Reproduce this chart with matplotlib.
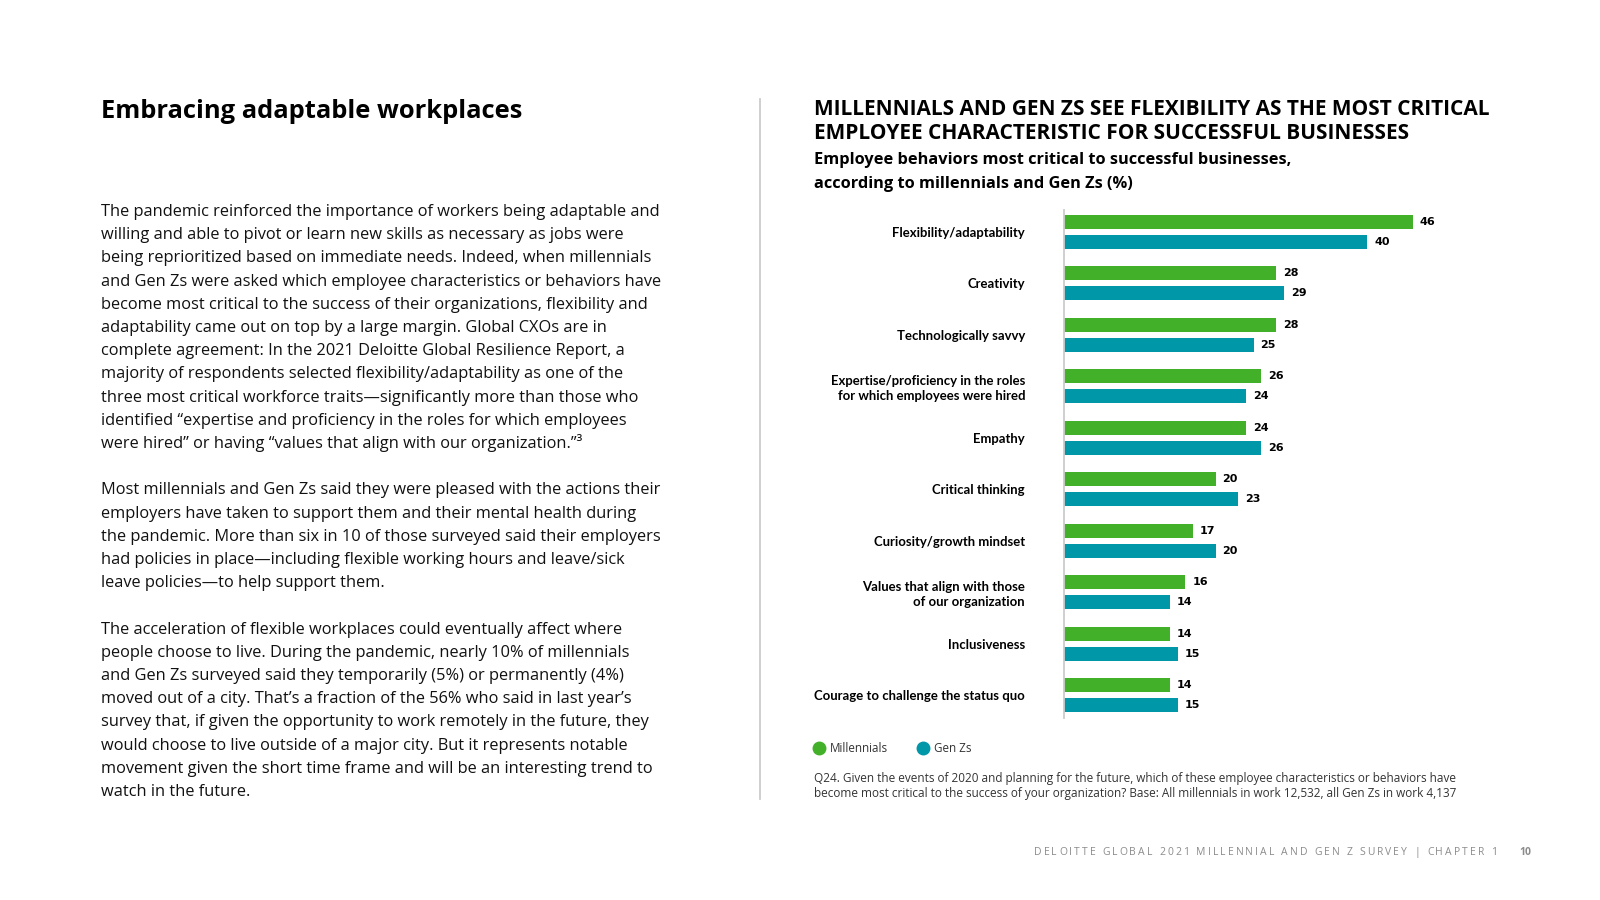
import matplotlib
matplotlib.use('Agg')
import matplotlib.pyplot as plt
from matplotlib.font_manager import FontProperties
from matplotlib.lines import Line2D
import numpy as np

# chart data
categories = ['Flexibility/adaptability', 'Creativity', 'Technologically savvy',
              'Expertise/proficiency in the roles\nfor which employees were hired',
              'Empathy', 'Critical thinking', 'Curiosity/growth mindset',
              'Values that align with those\nof our organization',
              'Inclusiveness', 'Courage to challenge the status quo']
millennials = [46, 28, 28, 26, 24, 20, 17, 16, 14, 14]
gen_zs = [40, 29, 25, 24, 26, 23, 20, 14, 15, 15]
series_names = ['Millennials', 'Gen Zs']

# page text
page_title = 'Embracing adaptable workplaces'
paragraphs = [
    ['The pandemic reinforced the importance of workers being adaptable and',
     'willing and able to pivot or learn new skills as necessary as jobs were',
     'being reprioritized based on immediate needs. Indeed, when millennials',
     'and Gen Zs were asked which employee characteristics or behaviors have',
     'become most critical to the success of their organizations, flexibility and',
     'adaptability came out on top by a large margin. Global CXOs are in',
     'complete agreement: In the 2021 Deloitte Global Resilience Report, a',
     'majority of respondents selected flexibility/adaptability as one of the',
     'three most critical workforce traits\u2014significantly more than those who',
     'identified \u201cexpertise and proficiency in the roles for which employees',
     'were hired\u201d or having \u201cvalues that align with our organization.\u201d\u00b3'],
    ['Most millennials and Gen Zs said they were pleased with the actions their',
     'employers have taken to support them and their mental health during',
     'the pandemic. More than six in 10 of those surveyed said their employers',
     'had policies in place\u2014including flexible working hours and leave/sick',
     'leave policies\u2014to help support them.'],
    ['The acceleration of flexible workplaces could eventually affect where',
     'people choose to live. During the pandemic, nearly 10% of millennials',
     'and Gen Zs surveyed said they temporarily (5%) or permanently (4%)',
     'moved out of a city. That\u2019s a fraction of the 56% who said in last year\u2019s',
     'survey that, if given the opportunity to work remotely in the future, they',
     'would choose to live outside of a major city. But it represents notable',
     'movement given the short time frame and will be an interesting trend to',
     'watch in the future.'],
]
chart_title = ['MILLENNIALS AND GEN ZS SEE FLEXIBILITY AS THE MOST CRITICAL',
               'EMPLOYEE CHARACTERISTIC FOR SUCCESSFUL BUSINESSES']
chart_subtitle = ['Employee behaviors most critical to successful businesses,',
                  'according to millennials and Gen Zs (%)']
footnote = ['Q24. Given the events of 2020 and planning for the future, which of these employee characteristics or behaviors have',
            'become most critical to the success of your organization? Base: All millennials in work 12,532, all Gen Zs in work 4,137']
footer = 'DELOITTE GLOBAL 2021 MILLENNIAL AND GEN Z SURVEY | CHAPTER 1'
page_no = '10'

GREEN = '#43B02A'
TEAL = '#0097A9'
SANS = ['Open Sans', 'DejaVu Sans']
W, H = 1600, 900

plt.rcParams['font.family'] = SANS

fig = plt.figure(figsize=(16, 9), dpi=100)
fig.patch.set_facecolor('white')
renderer = fig.canvas.get_renderer()


def fx(px):
    return px / W


def fy(py):
    return 1 - py / H


def text_w(s, family, weight, size):
    fp = FontProperties(family=family, weight=weight, size=size)
    return renderer.get_text_width_height_descent(s, fp, ismath=False)[0]


def fit(s, width, family=SANS, weight='normal'):
    # font size so that string s spans `width` pixels
    return 10 * width / text_w(s, family, weight, 10)


# left column
fig.text(fx(101), fy(118), page_title, fontsize=fit(page_title, 422, weight='bold'),
         fontweight='bold', color='black', va='baseline')

body_size = fit(paragraphs[0][0], 561)
k = 0
for para in paragraphs:
    for line in para:
        fig.text(fx(101), fy(216 + k * 23.2), line, fontsize=body_size,
                 color='#111111', va='baseline')
        k += 1
    k += 1

# separator
fig.add_artist(Line2D([fx(760), fx(760)], [fy(99), fy(799)], color='#cccccc', lw=1.3))

# right column titles
t_size = fit(chart_title[0], 678, weight='bold')
for i, line in enumerate(chart_title):
    fig.text(fx(814), fy(115 + i * 24.3), line, fontsize=t_size,
             fontweight='bold', color='black', va='baseline')
s_size = fit(chart_subtitle[0], 480, weight='bold')
for i, line in enumerate(chart_subtitle):
    fig.text(fx(814), fy(164 + i * 24), line, fontsize=s_size,
             fontweight='bold', color='black', va='baseline')

# bar chart
ax = fig.add_axes([fx(1064), fy(718), 379 / W, 508 / H])
y = np.arange(len(categories))
b1 = ax.barh(y - 0.194, millennials, height=0.272, color=GREEN, label=series_names[0])
b2 = ax.barh(y + 0.194, gen_zs, height=0.272, color=TEAL, label=series_names[1])
ax.set_xlim(0, 50)
ax.set_ylim(9.44, -0.427)
ax.set_yticks(y)
lab_size = fit('Courage to challenge the status quo', 211, ['Lato', 'DejaVu Sans'], 'bold')
ax.set_yticklabels(categories, fontsize=lab_size, fontweight='bold',
                   family=['Lato', 'DejaVu Sans'], linespacing=1.3)
ax.tick_params(axis='y', length=0, pad=28)
ax.set_xticks([])
for side in ['top', 'right', 'bottom']:
    ax.spines[side].set_visible(False)
ax.spines['left'].set_color('#cccccc')
ax.spines['left'].set_linewidth(1.3)
for bars in (b1, b2):
    ax.bar_label(bars, padding=5, fontsize=8, fontweight='bold',
                 family='DejaVu Sans', color='black')

handles = [Line2D([], [], marker='o', ls='', color=GREEN, markersize=9),
           Line2D([], [], marker='o', ls='', color=TEAL, markersize=9)]
fig.legend(handles, series_names, loc='center left', bbox_to_anchor=(fx(814), fy(749)),
           ncol=2, frameon=False, fontsize=8.4, handlelength=0.8, handletextpad=0.55,
           columnspacing=2.6, borderaxespad=0, borderpad=0, labelcolor='#333333')

f_size = fit(footnote[0], 642)
for i, line in enumerate(footnote):
    fig.text(fx(814), fy(782 + i * 15.3), line, fontsize=f_size,
             color='#333333', va='baseline')

# footer with letter spacing
foot_size = 7.5
natural = text_w(footer, SANS, 'normal', foot_size)
track = (463 - natural) / (len(footer) - 1)
ref = text_w('H', SANS, 'normal', foot_size)
for i, ch in enumerate(footer):
    off = text_w(footer[:i] + 'H', SANS, 'normal', foot_size) - ref if i else 0
    fig.text(fx(1034 + off + i * track), fy(855), ch, fontsize=foot_size,
             color='#8c8c8c', va='baseline')
fig.text(fx(1519), fy(855), page_no, fontsize=foot_size, fontweight='bold',
         color='#8c8c8c', va='baseline')

fig.savefig('out.png', dpi=100, facecolor='white')
